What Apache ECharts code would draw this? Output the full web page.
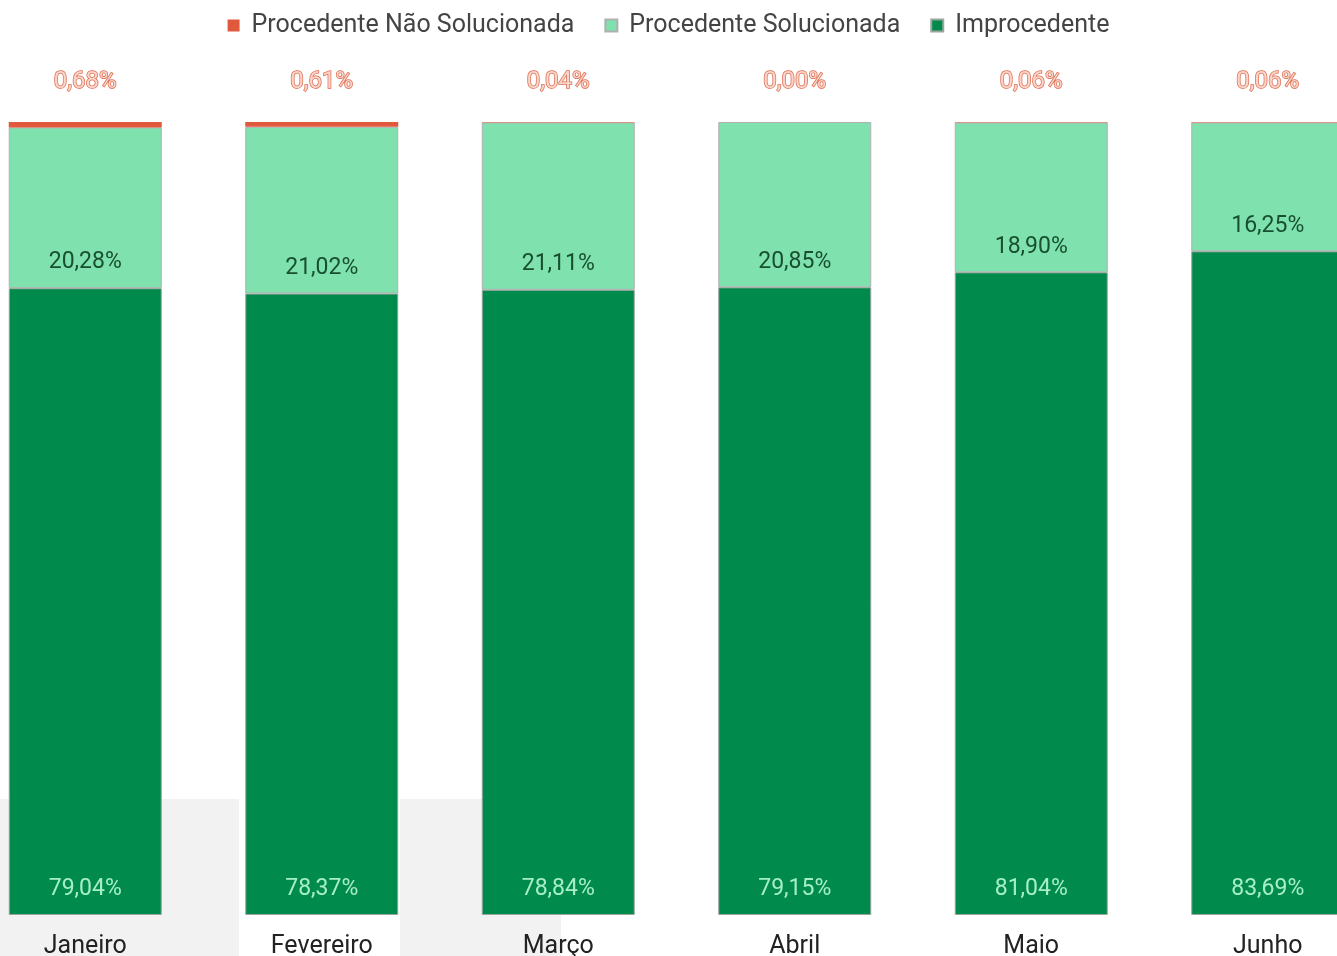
<!DOCTYPE html>
<html>
<head>
<meta charset="utf-8">
<script src="https://cdn.jsdelivr.net/npm/echarts@6/dist/echarts.min.js"></script>
<style>
  html, body { margin: 0; padding: 0; background: #fff; }
  #chart { width: 1337px; height: 956px; }
</style>
</head>
<body>
<div id="chart"></div>
<script>
var meses = ['Janeiro', 'Fevereiro', 'Março', 'Abril', 'Maio', 'Junho'];
var naoSolucionada = [0.68, 0.61, 0.04, 0.00, 0.06, 0.06];
var solucionada = [20.28, 21.02, 21.11, 20.85, 18.90, 16.25];
var improcedente = [79.04, 78.37, 78.84, 79.15, 81.04, 83.69];

var myChart = echarts.init(document.getElementById('chart'));

function pct(p) {
    return p.value.toFixed(2).replace('.', ',') + '%';
}

var option = {
    animation: false,
    textStyle: { fontFamily: 'Roboto, "Noto Sans", sans-serif' },
    color: ['#008b4c', '#7fe2ae', '#ee5a3a'],
    legend: {
        top: 8,
        left: 'center',
        itemWidth: 12,
        itemHeight: 12,
        itemGap: 30,
        icon: 'rect',
        textStyle: { fontSize: 25, color: '#444', padding: [0, 0, 0, 7] },
        data: ['Procedente Não Solucionada', 'Procedente Solucionada', 'Improcedente']
    },
    graphic: [
        // faixas cinza no rodapé
        { type: 'rect', z: -10, shape: { x: 0, y: 799, width: 239, height: 157 }, style: { fill: '#f2f2f2' } },
        { type: 'rect', z: -10, shape: { x: 400, y: 799, width: 161, height: 157 }, style: { fill: '#f2f2f2' } }
    ],
    grid: {
        left: -33,
        right: -49,
        top: 122,
        bottom: 41,
        containLabel: false,
        outerBoundsMode: 'none'
    },
    xAxis: {
        type: 'category',
        data: meses,
        axisLine: { show: false },
        axisTick: { show: false },
        axisLabel: { fontSize: 25, color: '#222', margin: 19 }
    },
    yAxis: {
        type: 'value',
        min: 0,
        max: 100,
        show: false
    },
    series: [
        {
            name: 'Improcedente',
            type: 'bar',
            stack: 'total',
            barWidth: 153,
            z: 3,
            itemStyle: { color: '#008b4c', borderColor: '#9aa59e', borderWidth: 1 },
            label: {
                show: true,
                position: 'insideBottom',
                distance: 14,
                fontSize: 23,
                color: '#a6efc5',
                formatter: pct
            },
            data: improcedente
        },
        {
            name: 'Procedente Solucionada',
            type: 'bar',
            stack: 'total',
            barWidth: 153,
            itemStyle: { color: '#7fe2ae', borderColor: '#b0b0b0', borderWidth: 1 },
            label: {
                show: true,
                position: 'insideBottom',
                distance: 14,
                fontSize: 23,
                color: '#184f30',
                formatter: pct
            },
            data: solucionada
        },
        {
            name: 'Procedente Não Solucionada',
            type: 'bar',
            stack: 'total',
            barWidth: 153,
            itemStyle: { color: '#e0593c' },
            label: {
                show: true,
                position: 'top',
                distance: 28,
                fontSize: 24,
                color: '#f9d6c9',
                textBorderColor: '#df6a4f',
                textBorderWidth: 1.5,
                formatter: pct
            },
            data: naoSolucionada
        }
    ]
};

myChart.setOption(option);
</script>
</body>
</html>
